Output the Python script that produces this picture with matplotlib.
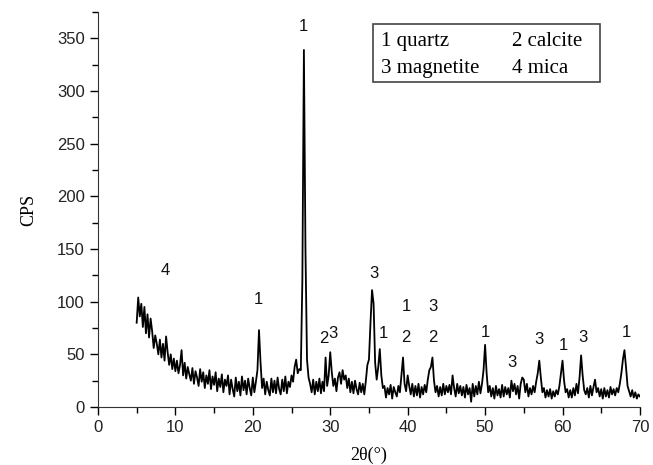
import numpy as np
from matplotlib import pyplot as plt
from matplotlib.patches import Rectangle

# XRD pattern on a 0.2 degree grid (5 .. 70)
two_theta = np.round(np.arange(5.0, 70.01, 0.2), 1)
cps = [
    80, 104, 86, 98, 76, 95, 70, 88, 66, 84,
    72, 56, 68, 60, 50, 64, 47, 60, 44, 67,
    52, 40, 50, 36, 46, 34, 44, 32, 40, 54,
    30, 42, 27, 38, 31, 25, 37, 22, 34, 28,
    20, 36, 24, 33, 18, 30, 22, 35, 17, 29,
    21, 33, 15, 27, 19, 31, 14, 26, 20, 30,
    12, 26, 17, 10, 28, 15, 24, 11, 29, 16,
    25, 12, 27, 18, 11, 28, 14, 24, 35, 73,
    42, 18, 27, 12, 24, 16, 11, 27, 14, 25,
    13, 28, 17, 12, 26, 15, 29, 13, 24, 19,
    30, 24, 38, 45, 32, 36, 35, 120, 339, 150,
    45, 28, 22, 14, 26, 12, 24, 15, 27, 13,
    24, 15, 47, 20, 30, 52, 33, 20, 27, 15,
    28, 33, 22, 35, 26, 30, 18, 27, 14, 24,
    13, 25, 17, 12, 23, 14, 22, 12, 25, 40,
    45, 80, 111, 98, 42, 26, 38, 55, 30, 18,
    20, 9, 18, 12, 21, 8, 19, 14, 10, 20,
    14, 30, 47, 22, 15, 30, 20, 12, 22, 10,
    20, 11, 22, 9, 19, 12, 21, 14, 26, 35,
    38, 47, 25, 14, 20, 10, 19, 11, 22, 12,
    20, 14, 21, 12, 30, 18, 10, 22, 13, 20,
    11, 19, 9, 21, 12, 18, 5, 22, 10, 20,
    12, 24, 13, 22, 35, 59, 32, 14, 20, 10,
    18, 8, 20, 11, 17, 9, 21, 10, 19, 12,
    18, 9, 25, 15, 22, 12, 20, 8, 22, 28,
    26, 14, 22, 10, 18, 12, 20, 14, 24, 32,
    44, 28, 14, 18, 9, 16, 10, 17, 8, 15,
    10, 16, 12, 20, 32, 44, 25, 14, 17, 9,
    16, 9, 18, 11, 22, 13, 28, 49, 30, 16,
    12, 18, 9, 20, 11, 19, 26, 14, 18, 10,
    17, 8, 18, 10, 16, 9, 19, 12, 17, 11,
    18, 14, 22, 32, 45, 54, 38, 20, 15, 10,
    16, 9, 14, 8, 12, 10,
]

# phase labels above the peaks: (text, 2theta, cps)
peak_labels = [
    ("4", 8.7, 130), ("1", 20.7, 102), ("1", 26.5, 361),
    ("2", 29.2, 65), ("3", 30.4, 70), ("3", 35.7, 127), ("1", 36.8, 70),
    ("1", 39.8, 95), ("2", 39.8, 66), ("3", 43.3, 95), ("2", 43.3, 66),
    ("1", 50.1, 71), ("3", 53.5, 42), ("3", 57.0, 64), ("1", 60.1, 58),
    ("3", 62.7, 66), ("1", 68.2, 71),
]

legend_items = ["1 quartz", "2 calcite", "3 magnetite", "4 mica"]

fig = plt.figure(figsize=(6.53, 4.65), dpi=100)
ax = fig.add_axes([0.150, 0.1247, 0.830, 0.8495])

ax.plot(two_theta, cps, "-", color="black", linewidth=1.3)

for txt, x, y in peak_labels:
    ax.text(x, y, txt, ha="center", va="center", fontsize=12,
            family="Liberation Sans", color="#111111")

ax.set_xlim(0, 70)
ax.set_ylim(0, 375)
ax.set_xticks(range(0, 71, 10))
ax.set_xticks(range(5, 71, 10), minor=True)
ax.set_yticks(range(0, 351, 50))
ax.set_yticks(range(25, 376, 50), minor=True)
ax.tick_params(which="major", direction="out", length=6, width=1,
               labelsize=12)
ax.tick_params(which="minor", direction="out", length=4, width=1)
for lab in ax.get_xticklabels() + ax.get_yticklabels():
    lab.set_family("Liberation Sans")
    lab.set_color("#222222")

ax.spines["top"].set_visible(False)
ax.spines["right"].set_visible(False)
ax.spines["left"].set_color("#333333")
ax.spines["bottom"].set_color("#333333")

ax.set_xlabel("2θ(°)", fontsize=13, family="Liberation Serif", labelpad=8)
ax.set_ylabel("CPS", fontsize=13, family="Liberation Serif", labelpad=14)

# legend box drawn as plain text
ax.add_patch(Rectangle((0.507, 0.823), 0.419, 0.147, transform=ax.transAxes,
                       fill=False, edgecolor="#444444", linewidth=1.2))
pos = [(0.522, 0.925), (0.764, 0.925), (0.522, 0.857), (0.764, 0.857)]
for txt, (px, py) in zip(legend_items, pos):
    ax.text(px, py, txt, transform=ax.transAxes, ha="left", va="center",
            fontsize=15, family="Liberation Serif")

fig.savefig("out.png", dpi=100)
